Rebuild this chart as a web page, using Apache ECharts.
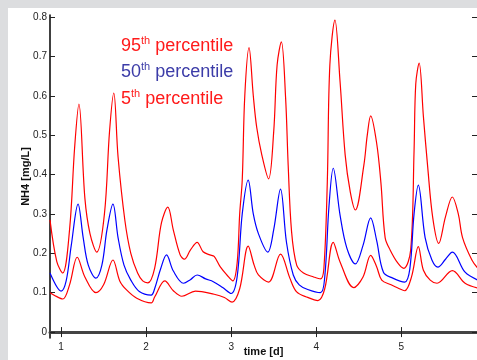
<!DOCTYPE html>
<html><head><meta charset="utf-8">
<script src="https://cdn.jsdelivr.net/npm/echarts@6/dist/echarts.min.js"></script>
<style>
html,body{margin:0;padding:0;background:#dcdddf;width:477px;height:360px;overflow:hidden;}
#panel{position:absolute;left:8px;top:8px;width:469px;height:352px;background:#fff;}
#c{position:absolute;left:0;top:0;width:477px;height:360px;}
</style></head>
<body><div id="panel"></div><div id="c"></div>
<script>
// 95th percentile
const t95 = [0.87,0.95,1.02,1.10,1.16,1.21,1.28,1.34,1.42,1.51,1.57,1.62,1.67,1.75,1.82,1.90,1.96,2.02,2.10,2.18,2.255,2.32,2.40,2.45,2.52,2.60,2.67,2.75,2.80,2.87,2.95,3.02,3.07,3.10,3.13,3.16,3.21,3.26,3.30,3.36,3.44,3.50,3.54,3.59,3.64,3.67,3.71,3.77,3.85,3.97,4.05,4.09,4.13,4.16,4.22,4.28,4.34,4.40,4.46,4.56,4.60,4.64,4.71,4.76,4.81,4.87,4.96,5.03,5.11,5.15,5.17,5.21,5.26,5.31,5.37,5.44,5.52,5.60,5.67,5.72,5.83,5.90];
const v95 = [0.285,0.179,0.150,0.260,0.470,0.579,0.340,0.250,0.203,0.300,0.510,0.607,0.445,0.284,0.200,0.150,0.130,0.125,0.162,0.277,0.317,0.259,0.196,0.185,0.208,0.228,0.204,0.196,0.192,0.166,0.145,0.130,0.175,0.300,0.386,0.600,0.722,0.600,0.520,0.450,0.389,0.509,0.678,0.737,0.594,0.424,0.255,0.170,0.150,0.140,0.135,0.162,0.380,0.678,0.792,0.636,0.450,0.356,0.310,0.424,0.500,0.549,0.480,0.380,0.240,0.208,0.175,0.162,0.208,0.460,0.630,0.683,0.547,0.420,0.290,0.225,0.293,0.343,0.300,0.240,0.183,0.162];
// 50th percentile
const t50 = [0.87,0.95,1.00,1.06,1.12,1.20,1.26,1.32,1.41,1.48,1.54,1.61,1.67,1.74,1.82,1.92,2.06,2.10,2.17,2.24,2.32,2.44,2.52,2.60,2.70,2.79,2.90,3.00,3.07,3.13,3.20,3.26,3.32,3.43,3.50,3.58,3.65,3.73,3.80,3.90,4.05,4.10,4.15,4.20,4.28,4.36,4.46,4.55,4.64,4.71,4.79,4.90,5.04,5.10,5.15,5.20,5.28,5.36,5.43,5.52,5.60,5.75,5.90];
const v50 = [0.150,0.115,0.104,0.130,0.220,0.325,0.240,0.170,0.137,0.170,0.260,0.325,0.240,0.170,0.132,0.103,0.094,0.110,0.160,0.196,0.155,0.124,0.133,0.145,0.135,0.128,0.113,0.098,0.140,0.300,0.386,0.300,0.250,0.203,0.260,0.363,0.228,0.145,0.120,0.108,0.100,0.140,0.320,0.416,0.297,0.213,0.173,0.220,0.290,0.233,0.152,0.137,0.127,0.160,0.300,0.373,0.240,0.183,0.165,0.185,0.203,0.152,0.132];
// 5th percentile
const t05 = [0.87,0.95,1.02,1.10,1.19,1.28,1.41,1.50,1.61,1.69,1.77,1.89,2.06,2.10,2.22,2.32,2.42,2.58,2.80,2.92,3.01,3.10,3.20,3.27,3.32,3.44,3.58,3.69,3.77,3.90,4.02,4.10,4.20,4.28,4.44,4.55,4.64,4.71,4.77,4.88,4.96,5.04,5.12,5.20,5.26,5.34,5.42,5.60,5.75,5.90];
const v05 = [0.100,0.090,0.084,0.120,0.190,0.140,0.100,0.120,0.183,0.130,0.107,0.086,0.074,0.089,0.130,0.105,0.091,0.104,0.096,0.088,0.076,0.110,0.218,0.170,0.145,0.127,0.198,0.137,0.102,0.088,0.080,0.110,0.228,0.178,0.113,0.140,0.195,0.166,0.132,0.120,0.112,0.105,0.140,0.217,0.157,0.132,0.124,0.156,0.124,0.112];

const xTicks = [1,2,3,4,5];
const yTicks = [0,0.1,0.2,0.3,0.4,0.5,0.6,0.7,0.8];
const legendLines = [
  {num:'95', color:'#ff1a1a'},
  {num:'50', color:'#3c3ca8'},
  {num:'5', color:'#ff1a1a'}
];

const zip = (a,b)=>a.map((x,i)=>[x,b[i]]);
const chart = echarts.init(document.getElementById('c'), null, {renderer:'canvas'});
const font = 'Liberation Sans, Arial, Helvetica, sans-serif';
const lineSeries = (name, t, v, color) => ({
  name, type:'line', data: zip(t,v), showSymbol:false, smooth:0.35,
  lineStyle:{color, width:1.2}, clip:true, silent:true, animation:false
});
option = {
  animation:false,
  backgroundColor:'transparent',
  grid:{left:50, top:15, right:0, bottom:22, containLabel:false, outerBoundsMode:'none'},
  xAxis:[{
    type:'value', min:0.87, max:5.89, position:'bottom',
    name:'time [d]', nameLocation:'middle', nameGap:14, nameMoveOverlap:false,
    nameTextStyle:{fontFamily:font, fontSize:11, fontWeight:'bold', color:'#111', verticalAlign:'middle'},
    axisLine:{show:true, lineStyle:{color:'#222', width:2}},
    axisTick:{show:true, inside:true, length:5, customValues:xTicks, lineStyle:{color:'#222'}},
    axisLabel:{customValues:xTicks, margin:4, fontFamily:font, fontSize:10, color:'#222', formatter:v=>String(v)},
    splitLine:{show:false}
  },{
    type:'value', min:0.87, max:5.89, position:'top',
    axisLine:{show:true, lineStyle:{color:'#444', width:3}},
    axisTick:{show:true, inside:true, length:5, customValues:xTicks, lineStyle:{color:'#222'}},
    axisLabel:{show:false}, splitLine:{show:false}
  }],
  yAxis:[{
    type:'value', min:-0.015, max:0.805, position:'left',
    name:'NH4 [mg/L]', nameLocation:'middle', nameGap:24, nameRotate:90, nameMoveOverlap:false,
    nameTextStyle:{fontFamily:font, fontSize:11, fontWeight:'bold', color:'#111', verticalAlign:'middle'},
    axisLine:{show:true, lineStyle:{color:'#000', width:1.5}},
    axisTick:{show:true, inside:true, length:5, customValues:yTicks, lineStyle:{color:'#222'}},
    axisLabel:{customValues:yTicks, margin:3, fontFamily:font, fontSize:10, color:'#222', formatter:v=>v===0?'0':v.toFixed(1)},
    splitLine:{show:false}
  },{
    type:'value', min:-0.015, max:0.805, position:'right',
    axisLine:{show:true, lineStyle:{color:'#222', width:1}},
    axisTick:{show:true, inside:true, length:5, customValues:yTicks, lineStyle:{color:'#222'}},
    axisLabel:{show:false}, splitLine:{show:false}
  }],
  series:[
    lineSeries('95th', t95, v95, '#ff0000'),
    lineSeries('50th', t50, v50, '#0000ff'),
    lineSeries('5th', t05, v05, '#ff0000')
  ],
  graphic: legendLines.map((l,i)=>({
    type:'text', left:121, top:35 + i*26.5, silent:true,
    style:{
      text:'{n|'+l.num+'}{s|th}{n| percentile}',
      fill:l.color,
      rich:{
        n:{fontFamily:font, fontSize:18, fill:l.color, lineHeight:20, verticalAlign:'bottom'},
        s:{fontFamily:font, fontSize:11, fill:l.color, lineHeight:20, verticalAlign:'top', padding:[0,0,6,0]}
      }
    }
  }))
};
chart.setOption(option);
</script></body></html>
